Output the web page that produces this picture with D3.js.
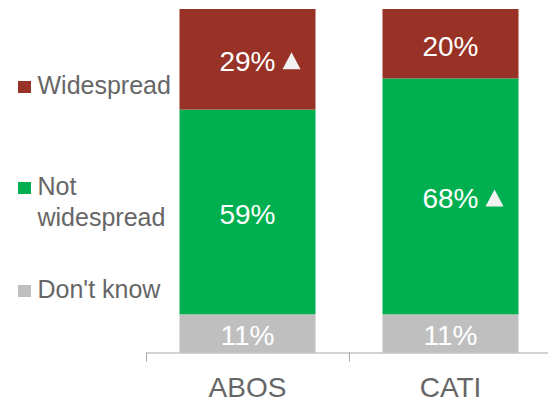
<!DOCTYPE html>
<html>
<head>
<meta charset="utf-8">
<script src="https://cdn.jsdelivr.net/npm/d3@7"></script>
<style>
  html, body { margin: 0; padding: 0; background: #fff; }
  svg { display: block; font-family: "Liberation Sans", Arial, Helvetica, sans-serif; }
</style>
</head>
<body>
<svg id="chart" width="548" height="403"></svg>
<script>
// ---- data ----
const categories = ["ABOS", "CATI"];
const seriesNames = ["Don't know", "Not widespread", "Widespread"];
const dontKnow = [11, 11];
const notWidespread = [59, 68];
const widespread = [29, 20];
// significance markers (▲) per series per category
const sigNotWidespread = [false, true];
const sigWidespread = [true, false];
const colors = ["#BFBFBF", "#00B050", "#983226"];

// ---- build table ----
const table = categories.map((c, i) => ({
  cat: c,
  "Don't know": dontKnow[i],
  "Not widespread": notWidespread[i],
  "Widespread": widespread[i]
}));
const sigMap = {
  "Don't know": [false, false],
  "Not widespread": sigNotWidespread,
  "Widespread": sigWidespread
};

const svg = d3.select("#chart");
const baseY = 352.5, topY = 9;

const x = d3.scaleBand().domain(categories).range([146, 552]).padding(0);
const barW = x.bandwidth() * 0.67;
const barOff = (x.bandwidth() - barW) / 2;

const totals = table.map(d => seriesNames.reduce((s, k) => s + d[k], 0));
const y = d3.scaleLinear().domain([0, d3.max(totals)]).range([baseY, topY]);

const stack = d3.stack().keys(seriesNames)(table);
const color = d3.scaleOrdinal().domain(seriesNames).range(colors);

const layers = svg.append("g").selectAll("g").data(stack).join("g")
  .attr("fill", d => color(d.key));

layers.selectAll("rect").data(d => d).join("rect")
  .attr("x", d => x(d.data.cat) + barOff)
  .attr("width", barW)
  .attr("y", d => y(d[1]))
  .attr("height", d => y(d[0]) - y(d[1]));

// value labels
const labelG = svg.append("g");
stack.forEach(layer => {
  layer.forEach((d, i) => {
    const cx = x(d.data.cat) + x.bandwidth() / 2;
    const cy = (y(d[0]) + y(d[1])) / 2;
    const val = d[1] - d[0];
    const t = labelG.append("text")
      .attr("x", cx)
      .attr("y", cy)
      .attr("dy", "0.43em")
      .attr("text-anchor", "middle")
      .attr("fill", "#fff")
      .attr("font-size", 28)
      .text(val + "%");
    if (sigMap[layer.key][i]) {
      const w = t.node().getComputedTextLength();
      const tx = cx + w / 2 + 7;
      const by = cy + 0.43 * 28 - 2;
      labelG.append("path")
        .attr("d", `M${tx},${by} L${tx + 18},${by} L${tx + 9},${by - 17} Z`)
        .attr("fill", "#F2F2F2");
    }
  });
});

// axis
const axisG = svg.append("g").attr("transform", `translate(0,${baseY})`);
axisG.call(d3.axisBottom(x).tickSize(0).tickPadding(0));
axisG.select(".domain").attr("stroke", "#A6A6A6").attr("stroke-width", 1);
axisG.selectAll(".tick text")
  .attr("font-size", 28)
  .attr("fill", "#666666")
  .attr("font-family", "\"Liberation Sans\", Arial, sans-serif")
  .attr("dy", 0)
  .attr("y", 44);
const bounds = categories.map(c => x(c)).concat([x.range()[1]]);
axisG.selectAll("line.bound").data(bounds).join("line")
  .attr("class", "bound")
  .attr("x1", d => Math.round(d) + 0.5).attr("x2", d => Math.round(d) + 0.5)
  .attr("y1", 0).attr("y2", 9)
  .attr("stroke", "#A6A6A6");

// legend
const legendItems = [
  { name: "Widespread", lines: ["Widespread"], y: 94 },
  { name: "Not widespread", lines: ["Not", "widespread"], y: 195 },
  { name: "Don't know", lines: ["Don't know"], y: 298 }
];
const lg = svg.append("g");
legendItems.forEach(it => {
  lg.append("rect")
    .attr("x", 18).attr("y", it.y - 13)
    .attr("width", 13).attr("height", 12)
    .attr("fill", color(it.name));
  const t = lg.append("text")
    .attr("x", 37.5).attr("y", it.y)
    .attr("font-size", 25)
    .attr("fill", "#666666");
  it.lines.forEach((ln, k) => {
    t.append("tspan").attr("x", 37.5).attr("dy", k === 0 ? 0 : 31).text(ln);
  });
});
</script>
</body>
</html>
